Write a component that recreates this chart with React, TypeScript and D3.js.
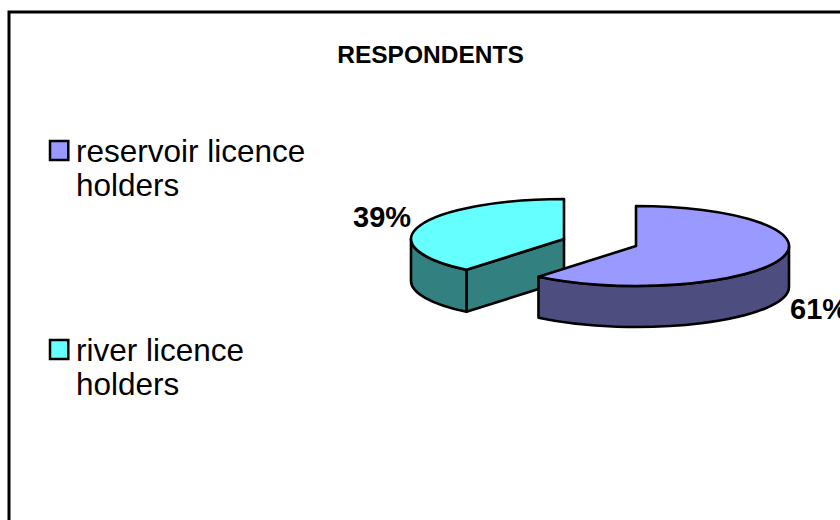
import * as d3 from 'd3'

const labels = ['reservoir licence holders', 'river licence holders']
const legendLines = [
  ['reservoir licence', 'holders'],
  ['river licence', 'holders'],
]
const values = [61, 39]
const percentLabels = ['61%', '39%']
const topColors = ['#9999ff', '#66ffff']
const sideColors = ['#4d4d80', '#338080']

const width = 840
const height = 520
const rx = 153
const ry = 40

// each slice is pulled apart, so it has its own centre and wall depth
const slices = [
  { cx: 636, cy: 246, depth: 41, labelX: 790, labelY: 319, swatchY: 140, textY: 161.5 },
  { cx: 564, cy: 239, depth: 42, labelX: 353, labelY: 227, swatchY: 339, textY: 360.5 },
]

const pie = d3.pie<number>().sort(null)

function point(s: { cx: number; cy: number }, a: number, dy = 0) {
  return [s.cx + rx * Math.sin(a), s.cy - ry * Math.cos(a) + dy]
}

function topPath(s, a0: number, a1: number) {
  const [x0, y0] = point(s, a0)
  const [x1, y1] = point(s, a1)
  const large = a1 - a0 > Math.PI ? 1 : 0
  return `M${s.cx},${s.cy}L${x0},${y0}A${rx},${ry} 0 ${large} 1 ${x1},${y1}Z`
}

function wallPath(s, a0: number, a1: number) {
  const [x0, y0] = point(s, a0)
  const [x1, y1] = point(s, a1)
  const [x2, y2] = point(s, a1, s.depth)
  const [x3, y3] = point(s, a0, s.depth)
  return `M${x0},${y0}A${rx},${ry} 0 0 1 ${x1},${y1}L${x2},${y2}A${rx},${ry} 0 0 0 ${x3},${y3}Z`
}

function cutPath(s, a: number) {
  const [x, y] = point(s, a)
  return `M${s.cx},${s.cy}L${x},${y}L${x},${y + s.depth}L${s.cx},${s.cy + s.depth}Z`
}

export default function App() {
  const arcs = pie(values)
  const big = arcs[0]
  const small = arcs[1]

  return (
    <svg
      width={width}
      height={height}
      style={{ position: 'absolute', left: 0, top: 0, background: '#fff' }}
      fontFamily="'Liberation Sans', Arial, sans-serif"
    >
      <rect x={9} y={12} width={width} height={height} fill="#fff" stroke="#000" strokeWidth={3} />
      <text x={430.5} y={63} textAnchor="middle" fontSize={24.5} fontWeight="bold">
        RESPONDENTS
      </text>

      {/* river slice goes first, the reservoir slice overlaps it */}
      <g stroke="#000" strokeWidth={2.6} strokeLinejoin="round">
        <path d={cutPath(slices[1], small.startAngle)} fill={sideColors[1]} />
        <path d={wallPath(slices[1], small.startAngle, Math.PI * 1.5)} fill={sideColors[1]} />
        <path d={topPath(slices[1], small.startAngle, small.endAngle)} fill={topColors[1]} />

        <path d={wallPath(slices[0], Math.PI / 2, big.endAngle)} fill={sideColors[0]} />
        <path d={topPath(slices[0], big.startAngle, big.endAngle)} fill={topColors[0]} />
      </g>

      {percentLabels.map((t, i) => (
        <text key={t} x={slices[i].labelX} y={slices[i].labelY} fontSize={29} fontWeight="bold">
          {t}
        </text>
      ))}

      {labels.map((name, i) => (
        <g key={name}>
          <rect x={50} y={slices[i].swatchY + 1} width={18.3} height={19} fill={topColors[i]} stroke="#000" strokeWidth={2.5} />
          {legendLines[i].map((line, j) => (
            <text key={line} x={76} y={slices[i].textY + j * 34.3} fontSize={31.5}>
              {line}
            </text>
          ))}
        </g>
      ))}
    </svg>
  )
}
